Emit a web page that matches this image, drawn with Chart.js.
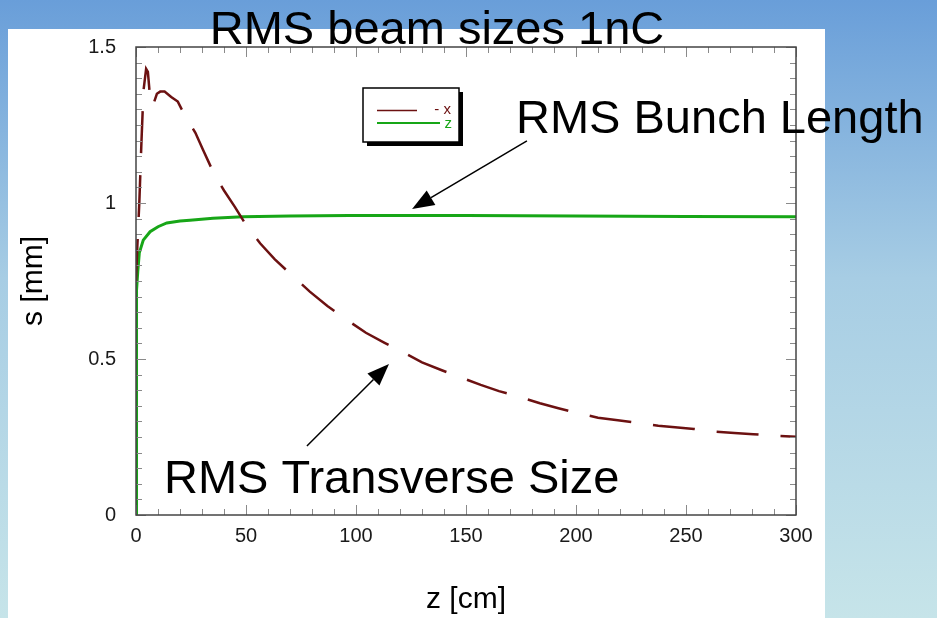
<!DOCTYPE html>
<html>
<head>
<meta charset="utf-8">
<script src="https://cdn.jsdelivr.net/npm/chart.js@4.4.1/dist/chart.umd.min.js"></script>
<style>
  html, body { margin: 0; padding: 0; overflow: hidden; }
  canvas { display: block; }
</style>
</head>
<body>
<canvas id="beamsizes" width="937" height="618"></canvas>
<script>
//====================================
// DATA
// Transverse size, sigma x [mm] against z [cm]
const zPosX = [0, 0.6, 1.5, 2.5, 3.4, 4.6, 5.4, 6.5, 7.6, 9.5, 11, 13, 16, 19, 21.5, 24, 27, 30.5, 34.4, 37, 40, 45, 50,
               56.4, 63, 70.8, 79, 87, 95.5, 104.5, 113, 121, 130, 139, 147.6, 156.7, 165, 174, 183.6, 192, 201, 210,
               219, 227.6, 237.4, 245, 253.6, 263.6, 272, 280.6, 290.5, 300];
const sigmaX = [0.75, 0.86, 1.0, 1.2, 1.36, 1.43, 1.42, 1.33, 1.31, 1.35, 1.357, 1.357, 1.34, 1.325, 1.29, 1.26, 1.225,
                1.17, 1.11, 1.075, 1.04, 0.987, 0.93, 0.871, 0.82, 0.769, 0.716, 0.67, 0.627, 0.584, 0.552, 0.523,
                0.489, 0.464, 0.441, 0.417, 0.397, 0.379, 0.358, 0.342, 0.326, 0.312, 0.304, 0.296, 0.286, 0.281,
                0.276, 0.267, 0.263, 0.259, 0.254, 0.251];

// Bunch length, sigma z [mm] against z [cm]
const zPosZ = [0, 0.1, 0.2, 0.4, 0.8, 1.5, 3.3, 6.4, 10, 14, 20, 24.5, 35, 48.6, 70, 97, 150, 200, 250, 300];
const sigmaZ = [0, 0.3, 0.55, 0.72, 0.78, 0.84, 0.881, 0.908, 0.924, 0.936, 0.942, 0.945, 0.951, 0.956, 0.958, 0.96,
                0.96, 0.958, 0.957, 0.956];

const seriesLabels = ["- x", "z"];
const xTicks = [0, 50, 100, 150, 200, 250, 300];
const yTicks = [0, 0.5, 1, 1.5];

const chartTitle = "RMS beam sizes 1nC";
const xTitle = "z [cm]";
const yTitle = "s [mm]";
//====================================
// Colours and fonts
const brown = "#6c1111";
const green = "#17a617";
const fontFamily = "'Liberation Sans', Arial, Helvetica, sans-serif";

// Helper to turn two arrays into {x, y} points
function toPoints(xs, ys){
    let pts = [];
    for (let i = 0; i < xs.length; i++){
        pts.push({x: xs[i], y: ys[i]});
    }
    return pts;
}
//====================================
// Plugin: page background (blue slide + white panel)
const backgroundPlugin = {
    id: "slideBackground",
    beforeDraw(chart){
        const ctx = chart.ctx;
        ctx.save();
        let grad = ctx.createLinearGradient(0, 0, 0, chart.height);
        grad.addColorStop(0, "#699ed9");
        grad.addColorStop(0.45, "#a7cde4");
        grad.addColorStop(1, "#c6e4e9");
        ctx.fillStyle = grad;
        ctx.fillRect(0, 0, chart.width, chart.height);
        ctx.fillStyle = "#ffffff";
        ctx.fillRect(8, 29, 817, chart.height - 29);
        ctx.restore();
    }
};
//====================================
// Plugin: plot frame with inward ticks on all four sides
const framePlugin = {
    id: "frameTicks",
    afterDatasetsDraw(chart){
        const ctx = chart.ctx;
        const area = chart.chartArea;
        const xs = chart.scales.x;
        const ys = chart.scales.y;
        ctx.save();
        ctx.strokeStyle = "#8a8a8a";
        ctx.lineWidth = 1;
        ctx.beginPath();
        // x ticks every 10, longer every 50
        for (let v = 0; v <= 300; v += 10){
            let px = Math.round(xs.getPixelForValue(v)) + 0.5;
            let len = (v % 50 === 0) ? 10 : 6;
            ctx.moveTo(px, area.bottom); ctx.lineTo(px, area.bottom - len);
            ctx.moveTo(px, area.top); ctx.lineTo(px, area.top + len);
        }
        // y ticks every 0.05, longer every 0.5
        for (let i = 0; i <= 30; i++){
            let py = Math.round(ys.getPixelForValue(i * 0.05)) + 0.5;
            let len = (i % 10 === 0) ? 10 : 6;
            ctx.moveTo(area.left, py); ctx.lineTo(area.left + len, py);
            ctx.moveTo(area.right, py); ctx.lineTo(area.right - len, py);
        }
        ctx.stroke();
        ctx.strokeStyle = "#444444";
        ctx.lineWidth = 1.5;
        ctx.strokeRect(area.left, area.top, area.right - area.left, area.bottom - area.top);
        ctx.restore();
    }
};
//====================================
// Plugin: title, legend box and the two arrow annotations
function drawArrow(ctx, x0, y0, x1, y1){
    let ang = Math.atan2(y1 - y0, x1 - x0);
    let headLen = 22, headW = 8.5;
    let bx = x1 - headLen * Math.cos(ang), by = y1 - headLen * Math.sin(ang);
    ctx.beginPath();
    ctx.moveTo(x0, y0); ctx.lineTo(bx, by);
    ctx.stroke();
    ctx.beginPath();
    ctx.moveTo(x1, y1);
    ctx.lineTo(bx + headW * Math.sin(ang), by - headW * Math.cos(ang));
    ctx.lineTo(bx - headW * Math.sin(ang), by + headW * Math.cos(ang));
    ctx.closePath();
    ctx.fill();
}

const decorPlugin = {
    id: "decor",
    afterDraw(chart){
        const ctx = chart.ctx;
        const xs = chart.scales.x;
        const ys = chart.scales.y;
        ctx.save();

        // Big title, sitting across the top edge of the white panel
        ctx.fillStyle = "#000000";
        ctx.font = "47px " + fontFamily;
        ctx.textAlign = "center";
        ctx.textBaseline = "alphabetic";
        ctx.fillText(chartTitle, 437, 44);

        // Legend box with a heavy drop shadow
        let bx = 363, by = 88, bw = 96, bh = 54;
        ctx.fillStyle = "#000000";
        ctx.fillRect(bx + 4, by + 4, bw, bh);
        ctx.fillStyle = "#ffffff";
        ctx.fillRect(bx, by, bw, bh);
        ctx.strokeStyle = "#000000";
        ctx.lineWidth = 1.5;
        ctx.strokeRect(bx, by, bw, bh);

        ctx.lineWidth = 1.5;
        ctx.strokeStyle = brown;
        ctx.beginPath(); ctx.moveTo(377, 110.5); ctx.lineTo(417, 110.5); ctx.stroke();
        ctx.lineWidth = 2;
        ctx.strokeStyle = green;
        ctx.beginPath(); ctx.moveTo(377, 123); ctx.lineTo(440, 123); ctx.stroke();

        ctx.font = "15px " + fontFamily;
        ctx.textAlign = "right";
        ctx.textBaseline = "middle";
        ctx.fillStyle = brown;
        ctx.fillText(seriesLabels[0], 451, 110);
        ctx.fillStyle = green;
        ctx.fillText(seriesLabels[1], 452, 124);

        // Annotation texts
        ctx.fillStyle = "#000000";
        ctx.font = "47px " + fontFamily;
        ctx.textAlign = "left";
        ctx.textBaseline = "alphabetic";
        ctx.fillText("RMS Bunch Length", 516, 133);
        ctx.fillText("RMS Transverse Size", 164, 493);

        // Arrows, anchored in data coordinates
        ctx.strokeStyle = "#000000";
        ctx.fillStyle = "#000000";
        ctx.lineWidth = 1.5;
        drawArrow(ctx, xs.getPixelForValue(177.7), ys.getPixelForValue(1.199),
                       xs.getPixelForValue(125.5), ys.getPixelForValue(0.981));
        drawArrow(ctx, xs.getPixelForValue(77.7), ys.getPixelForValue(0.221),
                       xs.getPixelForValue(115), ys.getPixelForValue(0.484));
        ctx.restore();
    }
};
//====================================
// Data object
let data = {
    "datasets": [
        {
            "label": seriesLabels[0],
            "data": toPoints(zPosX, sigmaX),
            "borderColor": brown,
            "borderWidth": 2.5,
            "borderDash": [42, 22],
            "pointRadius": 0,
            "tension": 0,
            "fill": false
        },
        {
            "label": seriesLabels[1],
            "data": toPoints(zPosZ, sigmaZ),
            "borderColor": green,
            "borderWidth": 3,
            "pointRadius": 0,
            "tension": 0,
            "fill": false
        }
    ]
};

// Options object
let options = {
    "responsive": false,
    "animation": false,
    "devicePixelRatio": 1,
    "layout": {"padding": {"left": 0, "top": 47, "right": 141, "bottom": 0}},
    "plugins": {
        "legend": {"display": false},
        "title": {"display": false},
        "tooltip": {"enabled": false}
    },
    "scales": {
        "x": {
            "type": "linear",
            "min": 0, "max": 300,
            "afterFit": function(scale){ scale.height = 103; },
            "afterBuildTicks": function(scale){ scale.ticks = xTicks.map(v => ({value: v})); },
            "grid": {"display": false, "drawTicks": false},
            "border": {"display": false},
            "ticks": {
                "padding": 9,
                "color": "#1a1a1a",
                "maxRotation": 0,
                "font": {"family": fontFamily, "size": 20}
            },
            "title": {
                "display": true,
                "text": xTitle,
                "color": "#000000",
                "padding": {"top": 0, "bottom": 0},
                "font": {"family": fontFamily, "size": 30}
            }
        },
        "y": {
            "type": "linear",
            "min": 0, "max": 1.5,
            "afterFit": function(scale){ scale.width = 136; },
            "afterBuildTicks": function(scale){ scale.ticks = yTicks.map(v => ({value: v})); },
            "grid": {"display": false, "drawTicks": false},
            "border": {"display": false},
            "ticks": {
                "padding": 20,
                "color": "#1a1a1a",
                "font": {"family": fontFamily, "size": 20},
                // plain labels: "1" not "1.0"
                "callback": function(value){ return String(value); }
            },
            "title": {
                "display": true,
                "text": yTitle,
                "color": "#000000",
                "padding": {"top": 16, "bottom": 0},
                "font": {"family": fontFamily, "size": 30}
            }
        }
    }
};

// Configuration object
let config = {
    "type": "line",
    "data": data,
    "options": options,
    "plugins": [backgroundPlugin, framePlugin, decorPlugin]
};

let canvas = document.getElementById("beamsizes");
chart = new Chart(canvas, config);
</script>
</body>
</html>
